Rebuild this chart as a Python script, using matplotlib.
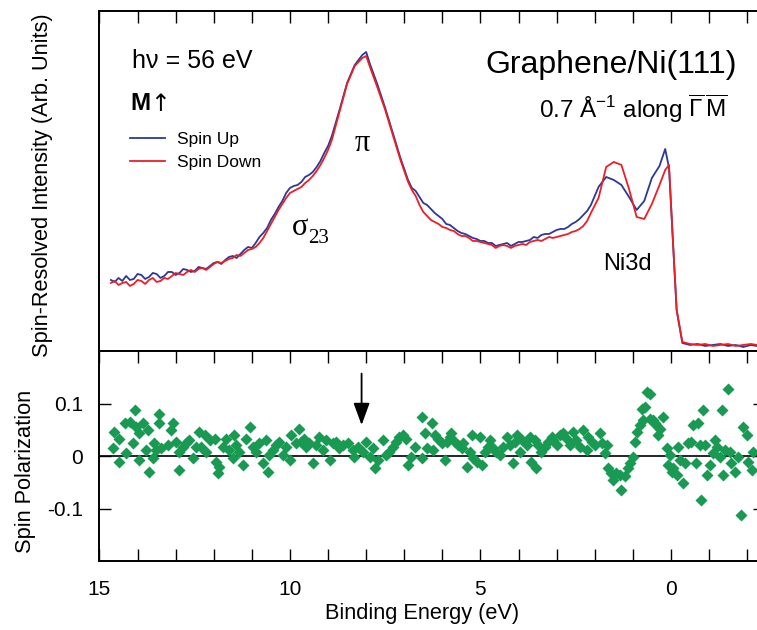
import matplotlib
matplotlib.use("Agg")
import matplotlib.pyplot as plt

plt.rcParams['font.family'] = ['Liberation Sans', 'DejaVu Sans']
plt.rcParams['axes.unicode_minus'] = False
plt.rcParams['mathtext.fontset'] = 'custom'
plt.rcParams['mathtext.rm'] = 'Liberation Sans'
plt.rcParams['mathtext.it'] = 'Liberation Sans:italic'
plt.rcParams['mathtext.default'] = 'regular'

# binding energy grid of the spectra (eV)
energy = [14.7, 14.6, 14.5, 14.4, 14.3, 14.2, 14.1, 14.0, 13.9, 13.8,
          13.7, 13.6, 13.5, 13.4, 13.3, 13.2, 13.1, 13.0, 12.9, 12.8,
          12.7, 12.6, 12.5, 12.4, 12.3, 12.2, 12.1, 12.0, 11.9, 11.8,
          11.7, 11.6, 11.5, 11.4, 11.3, 11.2, 11.1, 11.0, 10.9, 10.8,
          10.7, 10.6, 10.5, 10.4, 10.3, 10.2, 10.1, 10.0, 9.9, 9.8,
          9.7, 9.6, 9.5, 9.4, 9.3, 9.2, 9.1, 9.0, 8.9,
          8.7, 8.5, 8.3, 8.1, 8.0, 7.9, 7.7, 7.5, 7.3, 7.1,
          7.0, 6.9, 6.8, 6.7, 6.6, 6.5, 6.4, 6.3, 6.2, 6.1,
          6.0, 5.9, 5.8, 5.7, 5.6, 5.5, 5.4, 5.3, 5.2, 5.1,
          5.0, 4.9, 4.8, 4.7, 4.6, 4.5, 4.4, 4.3, 4.2, 4.1,
          4.0, 3.9, 3.8, 3.7, 3.6, 3.5, 3.4, 3.3, 3.2, 3.1,
          3.0, 2.9, 2.8, 2.7, 2.6, 2.5, 2.4, 2.3, 2.2,
          2.1, 1.9, 1.7, 1.5, 1.3, 1.1, 0.9, 0.7, 0.5, 0.3,
          0.15, 0.05, -0.05, -0.15, -0.3, -0.5, -0.7, -0.9, -1.1, -1.3,
          -1.5, -1.7, -1.9, -2.1, -2.25]

# spin-resolved intensity (arb. units)
spin_up = [71, 69, 73, 70, 75, 71, 72, 77, 76, 72,
           74, 78, 77, 73, 75, 79, 79, 76, 78, 82,
           81, 79, 80, 84, 83, 82, 85, 88, 89, 87,
           91, 94, 95, 93, 97, 101, 104, 103, 108, 114,
           118, 123, 131, 137, 144, 150, 158, 163, 165, 166,
           169, 174, 176, 179, 184, 190, 198, 205, 215,
           241, 268, 286, 296, 299, 287, 266, 243, 218, 193,
           182, 171, 163, 160, 154, 148, 146, 142, 138, 135,
           132, 127, 126, 123, 120, 118, 117, 115, 113, 112,
           110, 110, 108, 108, 105, 106, 107, 108, 105, 107,
           109, 109, 110, 111, 114, 113, 116, 117, 117, 119,
           121, 122, 122, 124, 127, 129, 132, 136, 140,
           146, 164, 174, 171, 166, 154, 141, 150, 173, 185,
           202, 183, 111, 41, 8, 6, 7, 5, 6, 7,
           5, 6, 4, 6, 5]

spin_down = [68, 70, 66, 68, 69, 65, 67, 71, 70, 67,
             71, 73, 69, 70, 73, 72, 75, 78, 77, 76,
             79, 81, 79, 82, 83, 81, 84, 87, 89, 88,
             90, 92, 93, 96, 95, 98, 101, 102, 104, 108,
             113, 120, 127, 134, 141, 147, 153, 158, 160, 162,
             164, 168, 171, 175, 180, 186, 193, 201, 211,
             239, 267, 285, 293, 295, 284, 263, 241, 216, 191,
             180, 169, 161, 155, 146, 139, 135, 131, 129, 127,
             124, 123, 121, 120, 117, 115, 115, 113, 110, 110,
             109, 108, 107, 106, 103, 105, 106, 105, 103, 105,
             106, 107, 106, 109, 110, 111, 110, 112, 114, 113,
             114, 115, 116, 117, 119, 120, 122, 125, 130,
             138, 153, 184, 189, 186, 162, 134, 132, 147, 166,
             181, 186, 111, 41, 9, 7, 6, 7, 5, 6,
             7, 5, 6, 7, 6]

# spin polarization points
pol_energy = [14.65, 14.61, 14.48, 14.48, 14.34, 14.30, 14.21, 14.13, 14.06, 14.04,
              13.97, 13.95, 13.86, 13.78, 13.73, 13.69, 13.60, 13.56, 13.51, 13.43,
              13.43, 13.38, 13.21, 13.12, 13.08, 12.99, 12.92, 12.90, 12.81, 12.73,
              12.64, 12.55, 12.46, 12.38, 12.33, 12.24, 12.20, 12.11, 11.98, 11.94,
              11.89, 11.85, 11.76, 11.68, 11.59, 11.50, 11.46, 11.41, 11.33, 11.24,
              11.15, 11.06, 10.98, 10.89, 10.80, 10.71, 10.63, 10.58, 10.54, 10.45,
              10.36, 10.28, 10.19, 10.10, 10.01, 9.97, 9.84, 9.75, 9.71, 9.62,
              9.58, 9.49, 9.40, 9.31, 9.23, 9.14, 9.05, 8.96, 8.88, 8.79,
              8.70, 8.61, 8.48, 8.35, 8.31, 8.22, 8.09, 8.00, 7.91, 7.83,
              7.78, 7.69, 7.56, 7.48, 7.39, 7.30, 7.21, 7.13, 7.04, 6.95,
              6.91, 6.82, 6.73,
              6.54, 6.54, 6.46, 6.41, 6.28, 6.24, 6.19, 6.11, 6.02, 5.93,
              5.89, 5.80, 5.76, 5.67, 5.58, 5.49, 5.45, 5.36, 5.28, 5.23,
              5.19, 5.10, 5.01, 4.97, 4.88, 4.79, 4.75, 4.66, 4.58, 4.49,
              4.40, 4.31, 4.23, 4.14, 4.09, 4.05, 3.96, 3.90, 3.79, 3.70,
              3.66, 3.57, 3.53, 3.48, 3.40, 3.31, 3.22, 3.13, 3.09, 3.00,
              2.91, 2.83, 2.74, 2.65, 2.56, 2.48, 2.39, 2.30, 2.21, 2.17,
              2.08, 1.99, 1.86, 1.82, 1.73, 1.69, 1.65, 1.56, 1.51, 1.43,
              1.34, 1.30, 1.21, 1.12, 1.08, 0.99, 0.95, 0.90, 0.81, 0.77,
              0.73, 0.68, 0.64, 0.55, 0.55, 0.46, 0.42, 0.38, 0.33, 0.29,
              0.20, 0.11, 0.07, 0.03, -0.02, -0.06, -0.15, -0.19, -0.24, -0.32,
              -0.37, -0.46, -0.54, -0.59, -0.67, -0.72, -0.76, -0.80, -0.85, -0.89,
              -0.94, -1.02, -1.11, -1.15, -1.20, -1.29, -1.33, -1.37, -1.42, -1.50,
              -1.55, -1.59, -1.68, -1.77, -1.85, -1.89, -1.99, -2.03, -2.12, -2.16]

pol_value = [0.015, 0.046, 0.033, -0.011, 0.062, 0.005, 0.065, 0.024, 0.088, 0.056,
             -0.008, 0.043, 0.062, 0.011, 0.049, -0.030, -0.004, 0.024, 0.011, 0.081,
             0.062, 0.015, 0.021, 0.049, 0.062, 0.027, -0.027, 0.008, 0.018, 0.024,
             0.030, -0.004, 0.018, 0.046, 0.018, 0.040, 0.008, 0.030, 0.033, -0.011,
             -0.033, -0.020, 0.018, 0.033, 0.011, -0.004, 0.040, 0.021, 0.008, -0.017,
             0.033, 0.056, 0.018, 0.008, 0.024, -0.014, 0.030, -0.030, 0.002, 0.011,
             0.021, 0.027, 0.002, 0.018, -0.008, 0.040, 0.024, 0.052, 0.027, 0.033,
             0.018, 0.024, -0.014, 0.021, 0.037, 0.011, 0.030, -0.008, 0.024, 0.027,
             0.015, 0.021, 0.024, 0.011, -0.001, 0.018, 0.008, 0.027, -0.001, 0.015,
             -0.023, -0.008, 0.030, 0.002, 0.008, 0.018, 0.027, 0.037, 0.040, 0.033,
             -0.017, -0.001, 0.018,
             -0.004, 0.074, 0.043, 0.015, 0.062, 0.011, 0.040, 0.033, 0.024, -0.008,
             0.027, 0.037, 0.043, 0.027, 0.021, 0.015, 0.024, -0.020, 0.008, 0.040,
             -0.004, -0.011, 0.037, -0.017, 0.008, 0.018, 0.030, 0.015, 0.008, 0.002,
             0.018, 0.037, 0.021, -0.014, 0.027, 0.040, 0.008, 0.030, 0.021, 0.037,
             -0.011, 0.030, -0.023, 0.021, 0.008, 0.018, 0.027, 0.037, 0.030, 0.021,
             0.040, 0.043, 0.033, 0.021, 0.046, 0.030, 0.018, 0.049, 0.011, 0.037,
             0.027, 0.021, 0.043, 0.024, 0.005, 0.021, -0.023, -0.033, -0.045, -0.033,
             -0.036, -0.064, -0.039, -0.023, -0.014, -0.001, 0.027, 0.046, 0.059, 0.090,
             0.068, 0.093, 0.122, 0.119, 0.071, 0.068, 0.062, 0.059, 0.040, 0.052,
             0.074, 0.015, -0.017, 0.002, -0.030, -0.023, -0.036, 0.018, -0.008, -0.052,
             -0.014, 0.024, 0.027, 0.059, -0.014, 0.062, 0.021, -0.083, 0.087, 0.021,
             -0.036, -0.017, 0.005, 0.030, 0.018, -0.001, 0.087, -0.036, 0.011, 0.128,
             0.008, -0.014, -0.030, -0.001, -0.112, 0.056, 0.040, -0.011, -0.027, 0.008]

x_ticks = list(range(-2, 16))
x_labels = [str(t) if t % 5 == 0 else '' for t in x_ticks]
y_ticks = [-0.1, 0, 0.1]
y_labels = ['-0.1', '0', '0.1']

up_color = '#2a3a96'
down_color = '#ee1d26'
pol_color = '#189a52'

fig = plt.figure(figsize=(7.57, 6.30), dpi=100)
ax1 = fig.add_axes([0.1314, 0.4429, 0.8792, 0.5397])
ax2 = fig.add_axes([0.1314, 0.1095, 0.8792, 0.3333])

# ---- top: spin-resolved spectra
ax1.plot(energy, spin_up, color=up_color, lw=1.3, label='Spin Up')
ax1.plot(energy, spin_down, color=down_color, lw=1.3, label='Spin Down')
ax1.set_xlim(15, -2.47)
ax1.set_ylim(0, 340)
ax1.set_yticks([])
ax1.set_xticks(x_ticks)
ax1.tick_params(axis='x', direction='in', top=True, bottom=False,
                labeltop=False, labelbottom=False, length=8.5, width=1)

ax1.legend(loc='upper left', bbox_to_anchor=(0.0458, 0.645), frameon=False,
           borderpad=0, borderaxespad=0, handlelength=2.0, handletextpad=0.7,
           labelspacing=0.45, fontsize=12.5)

ax1.text(14.15, 283, 'hν = 56 eV', fontsize=18, va='baseline')
ax1.text(14.2, 241, 'M', fontsize=17.5, fontweight='bold', va='baseline')
ax1.text(13.66, 240, '↑', fontsize=17, family=['DejaVu Sans'], va='baseline')
ax1.text(-1.73, 278, 'Graphene/Ni(111)', fontsize=23, ha='right', va='baseline')
ax1.text(-1.50, 233, r'0.7 Å$^{-1}$ along $\overline{\Gamma}\,\overline{M}$',
         fontsize=17.5, ha='right', va='baseline')
ax1.text(8.11, 207, 'π', fontsize=22, family='Liberation Serif',
         ha='center', va='center')
ax1.text(9.95, 116, 'σ', fontsize=22, family='Liberation Serif', va='baseline')
ax1.text(9.53, 108, '23', fontsize=15, family='Liberation Serif', va='baseline')
ax1.text(1.78, 81, 'Ni3d', fontsize=17, va='baseline')

# ---- bottom: spin polarization
ax2.axhline(0, color='black', lw=1.2)
ax2.plot(pol_energy, pol_value, ls='none', marker='D', ms=6.3,
         mec='none', color=pol_color)
ax2.annotate('', xy=(8.12, 0.059), xytext=(8.12, 0.157),
             arrowprops=dict(arrowstyle='-|>,head_length=0.9,head_width=0.33',
                             color='black', lw=1.3, mutation_scale=15,
                             shrinkA=0, shrinkB=0))
ax2.set_xlim(15, -2.47)
ax2.set_ylim(-0.2, 0.2)
ax2.set_xticks(x_ticks)
ax2.set_xticklabels(x_labels)
ax2.set_yticks(y_ticks)
ax2.set_yticklabels(y_labels)
ax2.tick_params(axis='x', direction='in', top=True, bottom=True,
                length=8.5, width=1, labelsize=15, pad=14)
ax2.tick_params(axis='y', direction='in', left=True, right=True,
                length=8.5, width=1, labelsize=15, pad=12)

for ax in (ax1, ax2):
    for sp in ax.spines.values():
        sp.set_linewidth(1.4)

fig.text(43 / 757, 1 - 185 / 630, 'Spin-Resolved Intensity (Arb. Units)',
         rotation=90, ha='center', va='center', fontsize=15.7)
fig.text(25 / 757, 1 - 471 / 630, 'Spin Polarization',
         rotation=90, ha='center', va='center', fontsize=15.7)
fig.text(422 / 757, 1 - 613 / 630, 'Binding Energy (eV)',
         ha='center', va='center', fontsize=15.7)

fig.savefig('out.png', dpi=100)
